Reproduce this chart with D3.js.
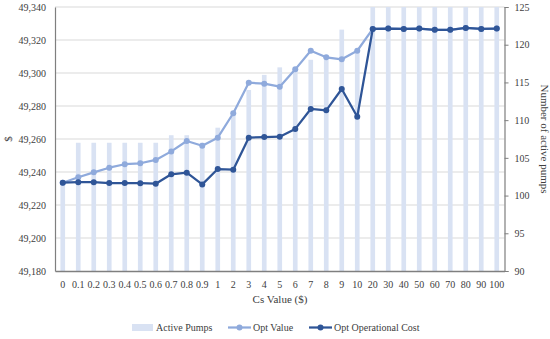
<!DOCTYPE html>
<html><head><meta charset="utf-8">
<script src="https://cdn.jsdelivr.net/npm/d3@7"></script>
<style>body{margin:0;background:#fff}svg{display:block}</style>
</head><body>
<svg id="c" width="550" height="339"></svg>
<script>
const categories = ["0","0.1","0.2","0.3","0.4","0.5","0.6","0.7","0.8","0.9","1","2","3","4","5","6","7","8","9","10","20","30","40","50","60","70","80","90","100"];
const activePumps = [102,107,107,107,107,107,107,108,108,107,109,111,114,116,117,117,118,118,122,119,125,125,125,125,125,125,125,125,125];
const optValue = [49233.5,49236.8,49239.8,49242.6,49244.7,49245.3,49247.3,49252.5,49258.8,49255.9,49260.8,49275.6,49294.1,49293.5,49291.7,49302.2,49313.5,49309.5,49308.3,49313.5,49326.7,49326.9,49326.7,49326.9,49326.2,49326.2,49327.3,49326.7,49326.9];
const optCost = [49233.5,49233.8,49233.8,49233.3,49233.3,49233.2,49232.9,49238.6,49239.6,49232.5,49241.8,49241.4,49260.8,49261.2,49261.4,49266.1,49278.2,49277.4,49290.3,49273.5,49326.7,49326.9,49326.7,49326.9,49326.2,49326.2,49327.3,49326.7,49326.9];
const leftTicks = [49180,49200,49220,49240,49260,49280,49300,49320,49340];
const rightTicks = [90,95,100,105,110,115,120,125];

const FONT = "Liberation Serif, Times New Roman, DejaVu Serif, serif";
const TXT = "#404040";
const svg = d3.select("#c").attr("font-family", FONT);
const L = 55, R = 504.5, T = 7, B = 271;
const x = d3.scaleBand().domain(categories).range([L, R]).padding(0);
const cx = d => x(d) + x.bandwidth()/2;
const yL = d3.scaleLinear().domain([49180,49340]).range([B, T]);
const yR = d3.scaleLinear().domain([90,125]).range([B, T]);

const barColor = "#d9e2f3", lightColor = "#8faadc", darkColor = "#2f5597";

// gridlines
svg.append("g").selectAll("line").data(leftTicks.slice(1)).join("line")
  .attr("x1", L).attr("x2", R).attr("y1", d => yL(d)).attr("y2", d => yL(d))
  .attr("stroke", "#d9d9d9").attr("stroke-width", 1);

// bars
svg.append("defs").append("clipPath").attr("id","clip").append("rect")
  .attr("x", L).attr("y", T).attr("width", R-L).attr("height", B-T);
const bw = x.bandwidth()*0.3;
svg.append("g").attr("clip-path","url(#clip)").selectAll("rect").data(categories).join("rect")
  .attr("x", (d) => cx(d) - bw/2).attr("width", bw)
  .attr("y", (d,i) => yR(activePumps[i])).attr("height", (d,i) => B - yR(activePumps[i]))
  .attr("fill", barColor);

function series(vals, color){
  const line = d3.line().x((d,i) => cx(categories[i])).y(d => yL(d));
  svg.append("path").datum(vals).attr("d", line).attr("fill","none")
    .attr("stroke", color).attr("stroke-width", 2.25).attr("stroke-linejoin","round");
  svg.append("g").selectAll("circle").data(vals).join("circle")
    .attr("cx", (d,i) => cx(categories[i])).attr("cy", d => yL(d)).attr("r", 3)
    .attr("fill", color);
}
series(optValue, lightColor);
series(optCost, darkColor);

// axes
const axisColor = "#7f7f7f";
function styleAxis(g){
  g.attr("font-family", FONT).attr("font-size", 10);
  g.selectAll("text").attr("font-family", FONT).attr("font-size", 10).attr("fill", TXT);
}
const gl = svg.append("g").attr("transform", `translate(${L},0)`)
  .call(d3.axisLeft(yL).tickValues(leftTicks).tickFormat(d3.format(",")).tickSize(0).tickPadding(9));
gl.select(".domain").attr("stroke", axisColor).attr("stroke-width", 1.2);
styleAxis(gl);

const gr = svg.append("g").attr("transform", `translate(${R},0)`)
  .call(d3.axisRight(yR).tickValues(rightTicks).tickSize(4).tickPadding(6));
gr.select(".domain").attr("stroke", axisColor).attr("stroke-width", 1.2);
gr.selectAll(".tick line").attr("stroke", axisColor);
styleAxis(gr);

const gb = svg.append("g").attr("transform", `translate(0,${B})`)
  .call(d3.axisBottom(x).tickSize(0).tickPadding(10));
gb.select(".domain").attr("stroke", axisColor).attr("stroke-width", 1.5);
styleAxis(gb);

// titles
function txt(t, size){ return svg.append("text").attr("font-family", FONT).attr("font-size", size).attr("fill", TXT).text(t); }
txt("Cs Value ($)", 11).attr("x", 280).attr("y", 303).attr("text-anchor","middle");
txt("$", 11).attr("transform","translate(12,139) rotate(-90)").attr("text-anchor","middle");
txt("Number of active pumps", 11).attr("transform","translate(541,139) rotate(90)").attr("text-anchor","middle");

// legend
svg.append("rect").attr("x", 132).attr("y", 324).attr("width", 21).attr("height", 7).attr("fill", barColor);
txt("Active Pumps", 10).attr("x", 156).attr("y", 331);
[[228, lightColor, "Opt Value"], [309, darkColor, "Opt Operational Cost"]].forEach(([lx, c, t]) => {
  svg.append("line").attr("x1", lx).attr("x2", lx+23).attr("y1", 327.5).attr("y2", 327.5).attr("stroke", c).attr("stroke-width", 2.25);
  svg.append("circle").attr("cx", lx+11.5).attr("cy", 327.5).attr("r", 3).attr("fill", c);
  txt(t, 10).attr("x", lx+25).attr("y", 331);
});
</script>
</body></html>
